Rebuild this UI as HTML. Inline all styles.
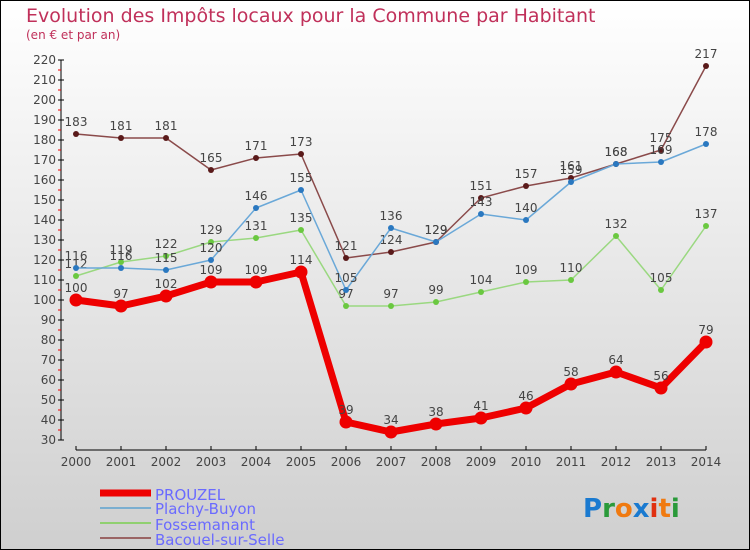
<!DOCTYPE html>
<html><head><meta charset="utf-8"><style>
body{margin:0}
#c{width:750px;height:550px;position:relative;box-sizing:border-box;border:1px solid #000;background:linear-gradient(#fff,#cfcfcf);font-family:"DejaVu Sans","Liberation Sans",sans-serif;overflow:hidden}
</style></head><body>
<div id="c">
<svg width="750" height="550" id="svg" style="position:absolute;left:-1px;top:-1px">
<text x="26" y="22" font-size="19" fill="#c0305a">Evolution des Impôts locaux pour la Commune par Habitant</text>
<text x="26" y="39" font-size="12" fill="#c0305a">(en € et par an)</text>
<g id="axes"></g><g id="series"></g>
<g>
<line x1="100" y1="493" x2="151" y2="493" stroke="#e00" stroke-width="7"/>
<text x="155" y="500" font-size="15" fill="#6a6aff">PROUZEL</text>
<line x1="100" y1="508" x2="151" y2="508" stroke="#7aaed0" stroke-width="2"/>
<text x="155" y="514" font-size="15" fill="#6a6aff">Plachy-Buyon</text>
<line x1="100" y1="523" x2="151" y2="523" stroke="#90d070" stroke-width="2"/>
<text x="155" y="530" font-size="15" fill="#6a6aff">Fossemanant</text>
<line x1="100" y1="538" x2="151" y2="538" stroke="#9a6464" stroke-width="2"/>
<text x="155" y="545" font-size="15" fill="#6a6aff">Bacouel-sur-Selle</text>
</g>
<g font-size="26" font-family="'DejaVu Sans',sans-serif" font-weight="bold">
<text x="583" y="517"><tspan fill="#1a7ad0">P</tspan><tspan fill="#2a9a3a">r</tspan><tspan fill="#f07a10">o</tspan><tspan fill="#1a7ad0">x</tspan><tspan fill="#e03010">i</tspan><tspan fill="#f07a10">t</tspan><tspan fill="#2a9a3a">i</tspan></text>
</g>
</svg>
</div>
<script>
const years=["2000","2001","2002","2003","2004","2005","2006","2007","2008","2009","2010","2011","2012","2013","2014"];
const yTicks=[30,40,50,60,70,80,90,100,110,120,130,140,150,160,170,180,190,200,210,220];
const prouzel=[100,97,102,109,109,114,39,34,38,41,46,58,64,56,79];
const plachy=[116,116,115,120,146,155,105,136,129,143,140,159,168,169,178];
const fossemanant=[112,119,122,129,131,135,97,97,99,104,109,110,132,105,137];
const bacouel=[183,181,181,165,171,173,121,124,129,151,157,161,168,175,217];
const NS="http://www.w3.org/2000/svg";
function X(i){return 76+i*45;}
function Y(v){return 440-(v-30)*2;}
function mk(tag,attrs,parent){const e=document.createElementNS(NS,tag);for(const k in attrs)e.setAttribute(k,attrs[k]);parent.appendChild(e);return e;}
const ax=document.getElementById('axes'),se=document.getElementById('series');
let yl=mk('line',{x1:61,y1:Y(220),x2:61,y2:Y(30),stroke:'#000'},ax);


yTicks.forEach(v=>{
  mk('line',{x1:58,y1:Y(v),x2:64,y2:Y(v),stroke:'#000'},ax);
  if(v<220) mk('line',{x1:58,y1:Y(v+5),x2:61,y2:Y(v+5),stroke:'#e00'},ax);
  const t=mk('text',{x:56,y:Y(v)+4,'font-size':12,'text-anchor':'end',fill:'#444'},ax);t.textContent=v;
  
  
});
let xl=mk('line',{x1:X(0),y1:450,x2:X(14),y2:450,stroke:'#000'},ax);


years.forEach((y,i)=>{
  mk('line',{x1:X(i),y1:446,x2:X(i),y2:450,stroke:'#000'},ax);
  const t=mk('text',{x:X(i),y:466,'font-size':12,'text-anchor':'middle',fill:'#444'},ax);t.textContent=y;
  
  
});
function series(d,color,dot,w,r,name){
  const g=mk('g',{},se);
  
  
  const p=mk('polyline',{points:d.map((v,i)=>X(i)+','+Y(v)).join(' '),fill:'none',stroke:color,'stroke-width':w,'stroke-linejoin':'round'},g);
  
  
  d.forEach((v,i)=>{
    const c=mk('circle',{cx:X(i),cy:Y(v),r:r,fill:dot},g);
    
    
    const t=mk('text',{x:X(i),y:Y(v)-8,'font-size':12,'text-anchor':'middle',fill:'#444'},g);t.textContent=v;
    
    
  });
}
series(bacouel,'#8a4a4a','#5a1a1a',1.5,3,'bacouel');
series(fossemanant,'#9ad880','#6ac840',1.5,3,'fossemanant');
series(plachy,'#6aa8d8','#2a78c0',1.5,3,'plachy');
series(prouzel,'#ee0000','#ee0000',7,6.5,'prouzel');
</script>
</body></html>
